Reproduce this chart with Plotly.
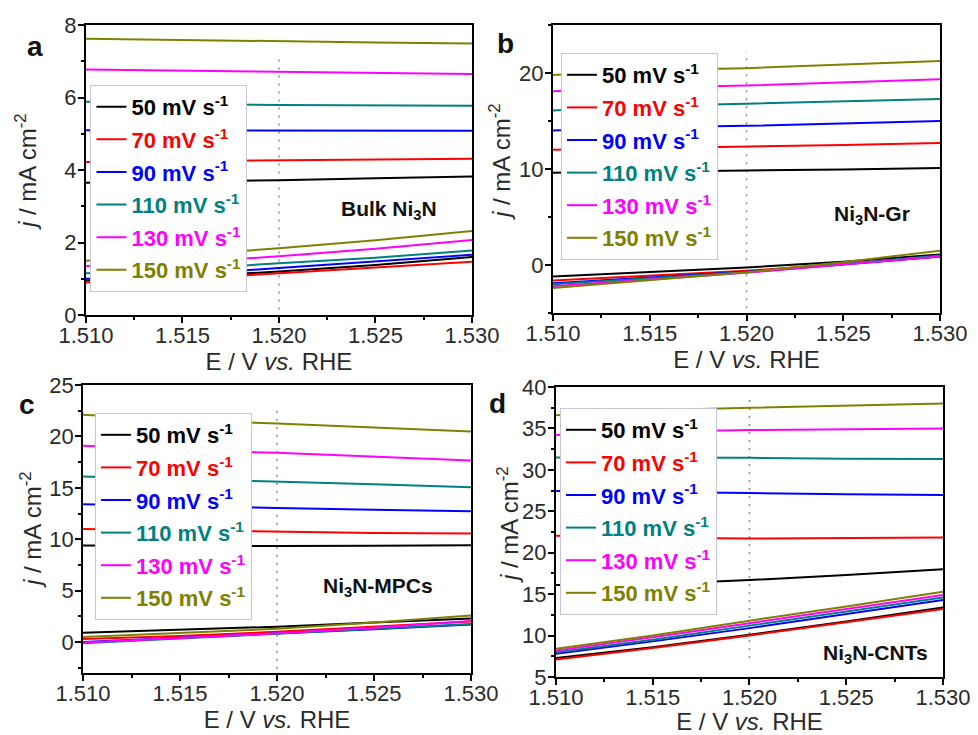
import plotly.graph_objects as go

# Potential grid (V vs. RHE) shared by both sweep branches
potential = [1.510, 1.515, 1.520, 1.525, 1.530]

scan_rates = [50, 70, 90, 110, 130, 150]
line_colors = ["#000000", "#ff0000", "#0000ff", "#008080", "#ff00ff", "#808000"]

# Current density (mA cm-2), one row per scan rate: forward (upper) and reverse (lower) branch
bulk_upper = [
    [3.65, 3.68, 3.72, 3.77, 3.82],
    [4.22, 4.24, 4.27, 4.29, 4.31],
    [5.10, 5.09, 5.08, 5.08, 5.08],
    [5.88, 5.82, 5.79, 5.78, 5.77],
    [6.77, 6.74, 6.71, 6.68, 6.65],
    [7.62, 7.58, 7.55, 7.52, 7.49],
]
bulk_lower = [
    [0.95, 1.05, 1.20, 1.38, 1.60],
    [0.90, 1.00, 1.15, 1.30, 1.47],
    [1.00, 1.10, 1.30, 1.47, 1.66],
    [1.15, 1.25, 1.43, 1.58, 1.78],
    [1.35, 1.45, 1.62, 1.83, 2.07],
    [1.50, 1.65, 1.84, 2.06, 2.32],
]

gr_upper = [
    [9.60, 9.75, 9.85, 9.95, 10.10],
    [12.00, 12.15, 12.30, 12.50, 12.70],
    [14.00, 14.35, 14.50, 14.75, 15.00],
    [16.10, 16.60, 16.80, 17.05, 17.30],
    [18.10, 18.50, 18.70, 19.00, 19.35],
    [19.80, 20.30, 20.50, 20.90, 21.25],
]
gr_lower = [
    [-1.20, -0.70, -0.25, 0.35, 1.10],
    [-1.60, -1.10, -0.60, 0.10, 0.90],
    [-1.90, -1.30, -0.70, 0.05, 0.90],
    [-2.00, -1.40, -0.75, 0.10, 1.00],
    [-2.20, -1.50, -0.80, 0.05, 0.90],
    [-2.40, -1.60, -0.75, 0.30, 1.50],
]

mpc_upper = [
    [9.40, 9.35, 9.35, 9.38, 9.42],
    [11.00, 10.85, 10.72, 10.62, 10.55],
    [13.40, 13.20, 13.05, 12.88, 12.73],
    [16.10, 15.85, 15.65, 15.35, 15.05],
    [19.10, 18.70, 18.40, 18.05, 17.67],
    [22.10, 21.60, 21.25, 20.85, 20.47],
]
mpc_lower = [
    [0.90, 1.20, 1.50, 1.90, 2.30],
    [0.30, 0.60, 1.00, 1.50, 2.00],
    [0.00, 0.40, 0.85, 1.25, 1.70],
    [-0.10, 0.35, 0.80, 1.25, 1.75],
    [-0.05, 0.40, 0.85, 1.40, 2.05],
    [0.50, 0.90, 1.30, 1.90, 2.60],
]

cnt_upper = [
    [16.10, 16.20, 16.70, 17.30, 18.00],
    [22.05, 21.80, 21.70, 21.75, 21.85],
    [27.45, 27.35, 27.20, 27.05, 26.95],
    [31.50, 31.50, 31.45, 31.35, 31.30],
    [34.20, 34.60, 34.80, 34.90, 35.00],
    [36.60, 37.20, 37.50, 37.75, 38.00],
]
cnt_lower = [
    [7.30, 8.60, 10.10, 11.70, 13.40],
    [7.10, 8.50, 10.00, 11.60, 13.20],
    [7.80, 9.30, 10.90, 12.60, 14.30],
    [8.00, 9.50, 11.20, 12.90, 14.60],
    [8.20, 9.80, 11.50, 13.20, 14.90],
    [8.40, 10.00, 11.80, 13.50, 15.30],
]

panel_letters = ["a", "b", "c", "d"]
sample_names = ["Bulk Ni<sub>3</sub>N", "Ni<sub>3</sub>N-Gr", "Ni<sub>3</sub>N-MPCs", "Ni<sub>3</sub>N-CNTs"]
y_ranges = [[0, 8], [-5, 25], [-3, 25], [5, 40]]
y_dticks = [2, 10, 5, 5]
y_minor = [1, 5, 2.5, 2.5]
marker_span = [[0.15, 7.2], [-4.5, 22.2], [-2.6, 22.6], [7.3, 38.7]]
name_pos = [[1.5257, 2.9], [1.5265, 5.2], [1.5252, 5.4], [1.5265, 7.8]]

FONT = "Liberation Sans, Arial, sans-serif"

# Plot-area placement of the four panels (paper fractions)
x_domains = [[0.0879, 0.4826], [0.5654, 0.9612], [0.0849, 0.4816], [0.5685, 0.9642]]
y_domains = [[0.5714, 0.9660], [0.5741, 0.9660], [0.0844, 0.4762], [0.0789, 0.4735]]
legend_xy = [[0.0925, 0.8844], [0.5736, 0.9279], [0.0971, 0.4381], [0.5726, 0.4449]]
letter_xy = [[35, 46], [505, 43], [27, 405], [497, 403]]
ytitle_xy = [[26, 172], [500, 162], [31, 530], [508, 525]]

panels = [
    (bulk_upper, bulk_lower),
    (gr_upper, gr_lower),
    (mpc_upper, mpc_lower),
    (cnt_upper, cnt_lower),
]

fig = go.Figure()
W, H = 978, 735

for p, (upper, lower) in enumerate(panels):
    suffix = "" if p == 0 else str(p + 1)
    leg = "legend" if p == 0 else f"legend{p + 1}"
    for i, rate in enumerate(scan_rates):
        col = line_colors[i]
        fig.add_trace(go.Scatter(
            x=potential + [None] + potential,
            y=upper[i] + [None] + lower[i],
            mode="lines",
            line=dict(color=col, width=2),
            name=f"<b><span style='color:{col}'>{rate} mV s<sup>-1</sup></span></b>",
            legend=leg,
            legendgroup=f"g{p}_{i}",
            xaxis="x" + suffix,
            yaxis="y" + suffix,
            connectgaps=False,
            hoverinfo="skip",
        ))

axis_common = dict(
    showline=True, linecolor="black", linewidth=2, mirror=True,
    ticks="outside", ticklen=6, tickwidth=1.5, tickcolor="black",
    showgrid=False, zeroline=False, automargin=False,
    tickfont=dict(family=FONT, size=22, color="#2a2a2a"),
)

layout = dict(
    width=W, height=H,
    margin=dict(l=0, r=0, t=0, b=0, autoexpand=False),
    paper_bgcolor="white", plot_bgcolor="white",
    font=dict(family=FONT, color="#222"),
    showlegend=True,
    shapes=[], annotations=[],
)

for p in range(4):
    suffix = "" if p == 0 else str(p + 1)
    xa = dict(axis_common)
    xa.update(
        domain=x_domains[p], anchor="y" + suffix,
        range=[1.510, 1.530], dtick=0.005, tick0=1.510, tickformat=".3f",
        ticklabelstandoff=-6,
        minor=dict(ticks="outside", ticklen=3, tickwidth=1.5, tickcolor="black", dtick=0.0025),
        title=dict(text="E / V <i>vs.</i> RHE", font=dict(family=FONT, size=24, color="#2a2a2a"), standoff=2),
    )
    ya = dict(axis_common)
    ya.update(
        domain=y_domains[p], anchor="x" + suffix,
        range=y_ranges[p], dtick=y_dticks[p], tick0=0,
        ticklabelstandoff=-3,
        minor=dict(ticks="outside", ticklen=3, tickwidth=1.5, tickcolor="black", dtick=y_minor[p]),
    )
    layout["xaxis" + suffix] = xa
    layout["yaxis" + suffix] = ya

    leg = "legend" if p == 0 else f"legend{p + 1}"
    layout[leg] = dict(
        x=legend_xy[p][0], y=legend_xy[p][1], xanchor="left", yanchor="top",
        xref="paper", yref="paper",
        bgcolor="white", bordercolor="#c9c3d6", borderwidth=1,
        font=dict(family=FONT, size=22, color="#222"),
        tracegroupgap=1, itemwidth=30,
    )

    # dotted guide at 1.520 V
    layout["shapes"].append(dict(
        type="line", xref="x" + suffix, yref="y" + suffix,
        x0=1.520, x1=1.520, y0=marker_span[p][0], y1=marker_span[p][1],
        line=dict(color="#8a8a8a", width=1.5, dash="2px,6px"), layer="below",
    ))

    # y-axis title, placed at a fixed distance like the source layout
    layout["annotations"].append(dict(
        text="<i>j</i> / mA cm<sup>-2</sup>", xref="paper", yref="paper",
        x=ytitle_xy[p][0] / W, y=1 - ytitle_xy[p][1] / H, showarrow=False,
        textangle=-90, xanchor="center", yanchor="middle",
        font=dict(family=FONT, size=24, color="#2a2a2a"),
    ))
    layout["annotations"].append(dict(
        text=f"<b>{sample_names[p]}</b>", xref="x" + suffix, yref="y" + suffix,
        x=name_pos[p][0], y=name_pos[p][1], showarrow=False,
        font=dict(family=FONT, size=21, color="#111"),
    ))
    layout["annotations"].append(dict(
        text=f"<b>{panel_letters[p]}</b>", xref="paper", yref="paper",
        x=letter_xy[p][0] / W, y=1 - letter_xy[p][1] / H, showarrow=False,
        xanchor="center", yanchor="middle",
        font=dict(family=FONT, size=28, color="#111"),
    ))

fig.update_layout(**layout)
fig.write_html("out.html")
